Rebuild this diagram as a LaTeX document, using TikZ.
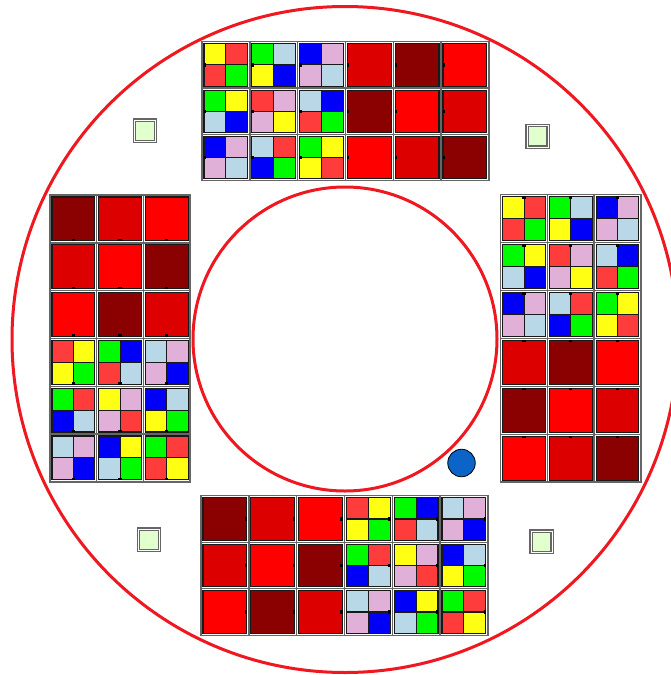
\documentclass[tikz,border=0pt]{standalone}
\usepackage{xcolor}
\usepackage{tikz}
\definecolor{ringred}{RGB}{240, 24, 32}
\definecolor{seatdark}{RGB}{139, 0, 0}
\definecolor{seatmid}{RGB}{221, 0, 0}
\definecolor{seatred}{RGB}{255, 0, 0}
\definecolor{tR}{RGB}{255, 60, 60}
\definecolor{tY}{RGB}{255, 255, 20}
\definecolor{tG}{RGB}{0, 250, 0}
\definecolor{tB}{RGB}{0, 0, 250}
\definecolor{tP}{RGB}{224, 176, 216}
\definecolor{tS}{RGB}{184, 216, 232}
\definecolor{stoolgreen}{RGB}{226, 255, 206}
\definecolor{pointblue}{RGB}{12, 100, 200}

% one seat, drawn at the origin of the current scope
\newcommand{\plaincell}[1]{%
  \draw[cellframe] (0,0) rectangle (\cw,\ch);
  \draw[cellseat, fill=#1] (2,2) rectangle (\cw-2,\ch-2);
}
% a seat split in four: upper left, upper right, lower left, lower right
\newcommand{\tilecell}[4]{%
  \draw[cellframe] (0,0) rectangle (\cw,\ch);
  \fill[#1] (2,2) rectangle (\cw/2,\ch/2);
  \fill[#2] (\cw/2,2) rectangle (\cw-2,\ch/2);
  \fill[#3] (2,\ch/2) rectangle (\cw/2,\ch-2);
  \fill[#4] (\cw/2,\ch/2) rectangle (\cw-2,\ch-2);
  \draw[cellseat] (2,2) rectangle (\cw-2,\ch-2)
    (\cw/2,2) -- (\cw/2,\ch-2) (2,\ch/2) -- (\cw-2,\ch/2);
}
\newcommand{\redrowsA}{{seatmid,seatdark,seatred},{seatdark,seatred,seatmid},{seatred,seatmid,seatdark}}
\newcommand{\redrowsB}{{seatdark,seatmid,seatred},{seatmid,seatred,seatdark},{seatred,seatdark,seatmid}}
\newcommand{\tilerowsA}{{tY/tR/tR/tG, tG/tS/tY/tB, tB/tP/tP/tS},{tG/tY/tS/tB, tR/tP/tP/tY, tS/tB/tR/tG},{tB/tP/tP/tS, tS/tR/tB/tG, tG/tY/tY/tR}}
\newcommand{\tilerowsB}{{tR/tY/tY/tG, tG/tB/tR/tS, tS/tP/tP/tB},{tG/tR/tB/tS, tY/tP/tP/tR, tB/tS/tY/tG},{tS/tP/tP/tB, tB/tY/tS/tG, tG/tR/tR/tY}}
% a 3x3 block of seats with its corner at #1,#2
\newcommand{\redblock}[3]{%
  \foreach \row [count=\nr from 0] in #3 {
    \foreach \col [count=\nc from 0] in \row {
      \begin{scope}[shift={(#1+\nc*\cw, #2+\nr*\ch)}]
        \plaincell{\col}\seattick
      \end{scope}
    }
  }
}
\newcommand{\tileblock}[3]{%
  \foreach \row [count=\nr from 0] in #3 {
    \foreach \ul/\ur/\ll/\lr [count=\nc from 0] in \row {
      \begin{scope}[shift={(#1+\nc*\cw, #2+\nr*\ch)}]
        \tilecell{\ul}{\ur}{\ll}{\lr}\seattick
      \end{scope}
    }
  }
}

\begin{document}
\begin{tikzpicture}[
    x=1pt, y=-1pt,
    ring/.style={draw=ringred, line width=3pt},
    cellframe/.style={draw=black!60, fill=white, line width=1.4pt},
    cellseat/.style={draw=black!90, line width=1.1pt},
    stool/.style={
        rectangle,
        draw=black!60,
        double=white,
        double distance=0.9pt,
        line width=1.2pt,
        fill=stoolgreen,
        minimum width=21pt,
        minimum height=21.5pt,
        inner sep=0pt
    },
    marker/.style={circle, draw=black, line width=0.8pt, fill=pointblue, minimum size=27.5pt, inner sep=0pt}
]
    \useasboundingbox (0,0) rectangle (670,675);
    \fill[white] (0,0) rectangle (670,675);

    \draw[ring] (345,339.5) circle[radius=333];
    \draw[ring] (345,339) circle[radius=152];

    % top
    \def\cw{47.8}\def\ch{46.35}
    \def\seattick{\fill (1.6,\ch/2-1.7) rectangle ++(2.4,3.4);}
    \tileblock{202}{41.7}{\tilerowsA}
    \redblock{345.4}{41.7}{\redrowsA}

    % right
    \def\cw{46.7}\def\ch{47.9}
    \def\seattick{\fill (\cw/2-1.7,1.6) rectangle ++(3.4,2.4);}
    \tileblock{500.7}{194.7}{\tilerowsA}
    \redblock{500.7}{338.4}{\redrowsA}

    % left
    \def\cw{46.7}\def\ch{47.8}
    \def\seattick{\fill (\cw/2-1.7,\ch-4) rectangle ++(3.4,2.4);}
    \redblock{50}{195}{\redrowsB}
    \tileblock{50}{338.4}{\tilerowsB}

    % bottom
    \def\cw{47.8}\def\ch{46.5}
    \def\seattick{\fill (\cw-4,\ch/2-1.7) rectangle ++(2.4,3.4);}
    \redblock{201}{495.7}{\redrowsB}
    \tileblock{344.4}{495.7}{\tilerowsB}

    \node[stool] (stoolnw) at (144.7,130.8) {};
    \node[stool] (stoolne) at (537.5,136.3) {};
    \node[stool] (stoolsw) at (148.7,539.7) {};
    \node[stool] (stoolse) at (541.5,541.7) {};

    \node[marker] (spot) at (461.5,463) {};
\end{tikzpicture}
\end{document}
